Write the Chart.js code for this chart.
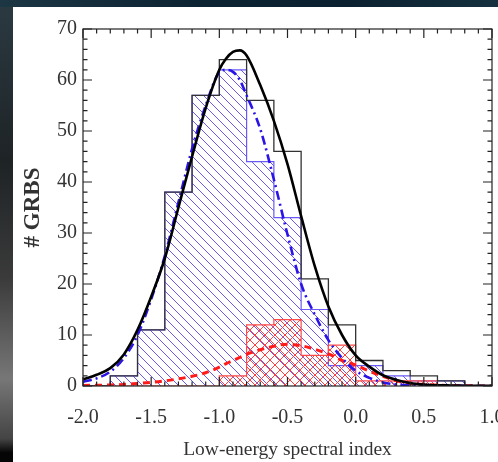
<!DOCTYPE html>
<html>
<head>
<meta charset="utf-8">
<script src="https://cdn.jsdelivr.net/npm/chart.js@4.4.1/dist/chart.umd.min.js"></script>
<style>
  html, body { margin: 0; padding: 0; width: 498px; height: 462px; overflow: hidden; }
  body { position: relative; background: #0f2430; }
  #leftStrip { position: absolute; left: 0; top: 0; width: 13px; height: 462px;
    background: linear-gradient(to bottom, #2b3a42 0%, #1e2326 35%, #3a3a3a 60%, #777 82%, #444 95%, #050505 98%); }
  #topStrip { position: absolute; left: 0; top: 0; width: 498px; height: 7px;
    background: linear-gradient(to right, #1d3644, #0c2331 40%, #0b2130 70%, #15303e); }
  #panel { position: absolute; left: 13px; top: 7px; width: 485px; height: 455px; background: #fff; }
  #c { position: absolute; left: 0; top: 0; }
</style>
</head>
<body>
<div id="leftStrip"></div>
<div id="topStrip"></div>
<div id="panel"></div>
<canvas id="c" width="498" height="462"></canvas>
<script>
// histogram bins (left edges, last entry is the right edge of the last bin)
const binEdges = [-2.0, -1.8, -1.6, -1.4, -1.2, -1.0, -0.8, -0.6, -0.4, -0.2, 0.0, 0.2, 0.4, 0.6, 0.8, 1.0];
const totalCounts = [0, 2, 11, 38, 57, 64, 56, 46, 21, 12, 5, 3, 2, 1, 0];
const blueCounts  = [0, 2, 11, 38, 57, 62, 44, 33, 15, 4, 4, 2, 1, 1, 0];
const redCounts   = [0, 0, 0, 0, 0, 2, 12, 13, 6, 8, 1, 1, 1, 0, 0];

// fitted curves
const curveX = [-2.0, -1.9, -1.8, -1.7, -1.6, -1.5, -1.4, -1.3, -1.2, -1.1, -1.0, -0.95, -0.9, -0.85, -0.8,
  -0.7, -0.6, -0.5, -0.4, -0.3, -0.2, -0.1, 0.0, 0.1, 0.2, 0.3, 0.4, 0.5, 0.6, 0.7, 0.8, 0.9, 1.0];
const totalFit = [1.3, 2.2, 3.5, 6.2, 11, 17.5, 25, 35, 45, 54.5, 62, 64.2, 65.5, 65.8, 64.8,
  59, 52, 43.5, 33.3, 23.5, 15.6, 10, 6, 3.8, 2.1, 1.2, 0.6, 0.3, 0.15, 0.1, 0.05, 0.03, 0.02];
const blueFit = [0.8, 1.5, 2.8, 5.5, 10, 17, 25.5, 36, 46.5, 55, 61.5, 62, 61.6, 60, 57,
  50.4, 40.5, 29.7, 20, 14, 9, 5.5, 3, 1.6, 0.7, 0.3, 0.15, 0.1, 0.05, 0.03, 0.02, 0.01, 0];
const redFit = [0.1, 0.15, 0.2, 0.3, 0.5, 0.7, 1.0, 1.4, 1.9, 2.6, 3.7, 4.4, 5.0, 5.6, 6.2,
  7.1, 7.8, 8.2, 7.9, 7.2, 6.3, 5.0, 4.1, 2.9, 1.9, 1.0, 0.5, 0.3, 0.15, 0.1, 0.05, 0.02, 0];

const xTicks = [-2.0, -1.5, -1.0, -0.5, 0.0, 0.5, 1.0];
const yTicks = [0, 10, 20, 30, 40, 50, 60, 70];

function stepPoints(counts) {
  const pts = counts.map((c, i) => ({ x: binEdges[i], y: c }));
  pts.push({ x: binEdges[binEdges.length - 1], y: counts[counts.length - 1] });
  return pts;
}
function curvePoints(ys) {
  return curveX.map((x, i) => ({ x: x, y: ys[i] }));
}

function hatch(size, color, both) {
  const c = document.createElement('canvas');
  c.width = size; c.height = size;
  const g = c.getContext('2d');
  g.strokeStyle = color;
  g.lineWidth = 1;
  g.beginPath();
  g.moveTo(-1, -1); g.lineTo(size + 1, size + 1);
  g.moveTo(-1, size - 1); g.lineTo(1, size + 1);
  g.moveTo(size - 1, -1); g.lineTo(size + 1, 1);
  if (both) {
    g.moveTo(-1, size + 1); g.lineTo(size + 1, -1);
    g.moveTo(-1, 1); g.lineTo(1, -1);
    g.moveTo(size - 1, size + 1); g.lineTo(size + 1, size - 1);
  }
  g.stroke();
  return g.createPattern(c, 'repeat');
}

const frameTicks = {
  id: 'frameTicks',
  afterDraw(chart) {
    const { ctx, chartArea: a, scales: { x, y } } = chart;
    ctx.save();
    ctx.strokeStyle = '#222';
    ctx.lineWidth = 1.2;
    ctx.strokeRect(a.left, a.top, a.right - a.left, a.bottom - a.top);
    ctx.beginPath();
    for (let i = 0; i <= 30; i++) {
      const px = x.getPixelForValue(-2 + i * 0.1);
      const len = i % 5 === 0 ? 9 : 4.5;
      ctx.moveTo(px, a.bottom); ctx.lineTo(px, a.bottom - len);
      ctx.moveTo(px, a.top); ctx.lineTo(px, a.top + len);
    }
    for (let i = 0; i <= 35; i++) {
      const py = y.getPixelForValue(i * 2);
      const len = i % 5 === 0 ? 9 : 4.5;
      ctx.moveTo(a.left, py); ctx.lineTo(a.left + len, py);
      ctx.moveTo(a.right, py); ctx.lineTo(a.right - len, py);
    }
    ctx.stroke();
    ctx.restore();
  }
};

const ctx = document.getElementById('c').getContext('2d');

new Chart(ctx, {
  type: 'line',
  data: {
    datasets: [
      {
        label: 'fit total',
        data: curvePoints(totalFit),
        borderColor: '#000',
        borderWidth: 2.6,
        cubicInterpolationMode: 'monotone',
        pointRadius: 0,
        fill: false,
        order: 0
      },
      {
        label: 'fit blue',
        data: curvePoints(blueFit),
        borderColor: '#2a14e6',
        borderWidth: 2.6,
        borderDash: [9, 4, 2, 4],
        cubicInterpolationMode: 'monotone',
        pointRadius: 0,
        fill: false,
        order: 1
      },
      {
        label: 'fit red',
        data: curvePoints(redFit),
        borderColor: '#ff1a1a',
        borderWidth: 3,
        borderDash: [7, 5],
        cubicInterpolationMode: 'monotone',
        pointRadius: 0,
        fill: false,
        order: 2
      },
      {
        label: 'all',
        data: stepPoints(totalCounts),
        stepped: 'before',
        borderColor: '#333',
        borderWidth: 1.3,
        pointRadius: 0,
        fill: false,
        order: 3
      },
      {
        label: 'red',
        data: stepPoints(redCounts),
        stepped: 'before',
        borderColor: '#ff4a4a',
        borderWidth: 1.2,
        backgroundColor: hatch(10, '#ff4040', true),
        pointRadius: 0,
        fill: 'origin',
        order: 4
      },
      {
        label: 'blue',
        data: stepPoints(blueCounts),
        stepped: 'before',
        borderColor: '#6a5af5',
        borderWidth: 1.2,
        backgroundColor: hatch(9, '#6a5af0', false),
        pointRadius: 0,
        fill: 'origin',
        order: 5
      }
    ]
  },
  options: {
    responsive: false,
    animation: false,
    devicePixelRatio: 1,
    layout: { padding: { left: 0, right: 6, top: 29, bottom: 0 } },
    plugins: { legend: { display: false }, tooltip: { enabled: false } },
    scales: {
      x: {
        type: 'linear',
        min: -2, max: 1,
        afterBuildTicks(s) { s.ticks = xTicks.map(v => ({ value: v })); },
        afterFit(s) { s.height = 76; s.paddingLeft = 0; s.paddingRight = 0; },
        grid: { display: false, drawTicks: false },
        border: { display: false },
        ticks: {
          padding: 20,
          maxRotation: 0,
          color: '#333',
          font: { family: 'Liberation Serif', size: 20 },
          callback: v => v.toFixed(1)
        },
        title: {
          display: true,
          text: 'Low-energy spectral index',
          color: '#333',
          font: { family: 'Liberation Serif', size: 19.5 },
          padding: { top: 3, bottom: 0 }
        }
      },
      y: {
        min: 0, max: 70,
        afterBuildTicks(s) { s.ticks = yTicks.map(v => ({ value: v })); },
        afterFit(s) { s.width = 83; s.paddingTop = 0; s.paddingBottom = 0; },
        grid: { display: false, drawTicks: false },
        border: { display: false },
        ticks: {
          padding: 6,
          color: '#333',
          font: { family: 'Liberation Serif', size: 20 }
        },
        title: {
          display: true,
          text: '# GRBS',
          color: '#333',
          font: { family: 'Liberation Serif', size: 23, weight: 'bold' },
          padding: { top: 19, bottom: 0 }
        }
      }
    }
  },
  plugins: [frameTicks]
});
</script>
</body>
</html>
